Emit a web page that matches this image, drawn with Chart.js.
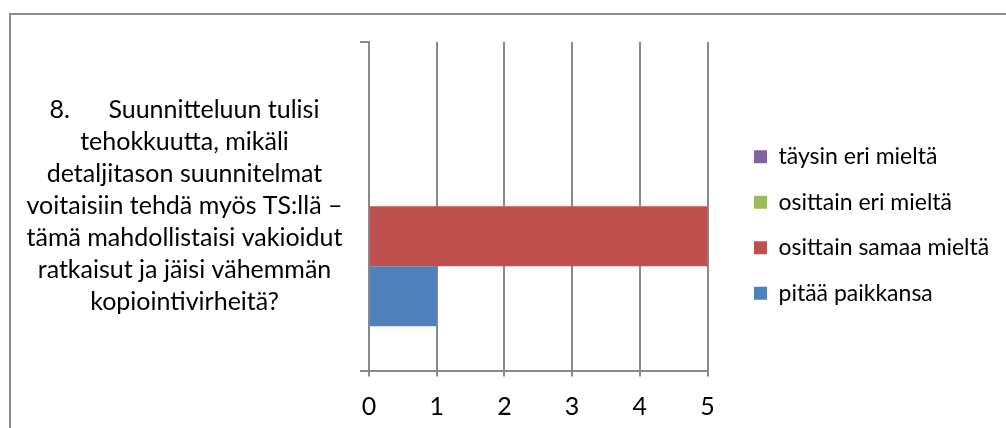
<!DOCTYPE html>
<html>
<head>
<meta charset="utf-8">
<script src="https://cdn.jsdelivr.net/npm/chart.js@4/dist/chart.umd.min.js"></script>
<style>
  html, body { margin: 0; padding: 0; background: #fff; overflow: hidden; }
  #frame { position: absolute; left: 9px; top: 13px; width: 1100px; height: 500px; border: 2px solid #8c8c8c; }
  #chart { position: absolute; left: 0; top: 0; }
</style>
</head>
<body>
<div id="frame"></div>
<canvas id="chart" width="1006" height="428"></canvas>
<script>
// ---------------------------------------------------------------------------
// Data: question 8, answer counts per option
// ---------------------------------------------------------------------------
const questionLines = [
    "8.      Suunnitteluun tulisi",
    "tehokkuutta, mikäli",
    "detaljitason suunnitelmat",
    "voitaisiin tehdä myös TS:llä –",
    "tämä mahdollistaisi vakioidut",
    "ratkaisut ja jäisi vähemmän",
    "kopiointivirheitä?",
];
const categories = [questionLines];

const seriesNames = ["täysin eri mieltä", "osittain eri mieltä", "osittain samaa mieltä", "pitää paikkansa"];
const taysinEri = [0];
const osittainEri = [0];
const osittainSamaa = [5];
const pitaaPaikkansa = [1];
const seriesValues = [taysinEri, osittainEri, osittainSamaa, pitaaPaikkansa];

const seriesColors = ["#8064A2", "#9BBB59", "#C0504D", "#4F81BD"];
const xTicks = [0, 1, 2, 3, 4, 5];

const FONT = "Lato";
const AXIS_GRAY = "#898989";
const LEGEND_WIDTH = 298.5;

// ---------------------------------------------------------------------------
// Legend box: fixed width so the plot stops at the last gridline,
// then nudged right/up a little so it sits apart from the bars
// ---------------------------------------------------------------------------
const legendPlacement = {
    id: "legendPlacement",
    beforeInit(chart) {
        const legend = chart.legend;
        const fit = legend.fit;
        legend.fit = function () {
            fit.call(this);
            this.width = LEGEND_WIDTH;
        };
    },
    afterLayout(chart) {
        const lg = chart.legend;
        lg.left += 24;
        lg.right += 24;
        lg.top -= 7;
        lg.bottom -= 7;
    },
};

// ---------------------------------------------------------------------------
// Chart
// ---------------------------------------------------------------------------
const datasets = seriesNames.map((name, i) => ({
    label: name,
    data: seriesValues[i],
    backgroundColor: seriesColors[i],
    borderWidth: 0,
    categoryPercentage: 0.73,
    barPercentage: 1.0,
}));

new Chart(document.getElementById("chart"), {
    type: "bar",
    data: { labels: categories, datasets },
    plugins: [legendPlacement],
    options: {
        indexAxis: "y",
        responsive: false,
        animation: false,
        layout: { padding: { top: 42, right: 0, bottom: 6, left: 0 } },
        plugins: {
            tooltip: { enabled: false },
            legend: {
                position: "right",
                labels: {
                    boxWidth: 13,
                    boxHeight: 13,
                    padding: 22.5,
                    color: "#000",
                    font: { family: FONT, size: 23 },
                },
            },
        },
        scales: {
            x: {
                min: xTicks[0],
                max: xTicks[xTicks.length - 1],
                ticks: {
                    stepSize: 1,
                    padding: 15,
                    color: "#000",
                    font: { family: FONT, size: 25 },
                },
                grid: { color: AXIS_GRAY, lineWidth: 2, tickLength: 6 },
                border: { color: AXIS_GRAY, width: 2 },
                afterFit: (s) => {
                    s.height = 51.5;
                    s.paddingLeft = 0;
                    s.paddingRight = 0;
                },
            },
            y: {
                ticks: {
                    crossAlign: "center",
                    padding: 17.5,
                    color: "#000",
                    font: { family: FONT, size: 25, lineHeight: "32px" },
                },
                grid: { drawOnChartArea: false, color: AXIS_GRAY, lineWidth: 2, tickLength: 9 },
                border: { color: AXIS_GRAY, width: 2 },
                afterFit: (s) => {
                    // the long label sits inside the category band, no extra room above/below
                    s.width = 369;
                    s.paddingTop = 0;
                    s.paddingBottom = 0;
                },
            },
        },
    },
});
</script>
</body>
</html>
